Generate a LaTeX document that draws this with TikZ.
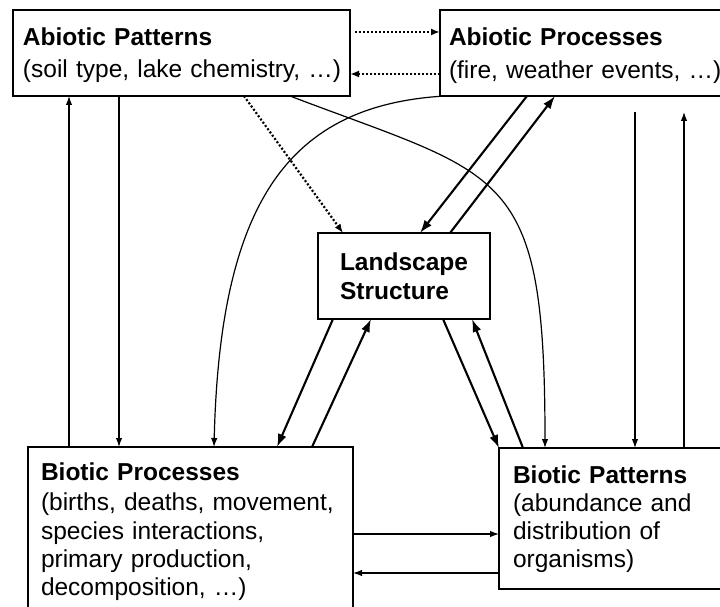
\documentclass[tikz,border=0pt]{standalone}
\usepackage{fontspec}
\setmainfont{Liberation Sans}
\usetikzlibrary{arrows.meta}

\begin{document}
\begin{tikzpicture}[x=1pt,y=-1pt,
    box/.style={draw,rectangle,outer sep=0pt,inner ysep=0pt,anchor=north west,
        align=left,font=\fontsize{24.5}{28.3}\selectfont},
    link/.style={line width=1.2pt,-{Latex[length=9pt,width=6.5pt]}},
    heavylink/.style={line width=2.1pt,-{Latex[length=13pt,width=9pt]}},
    dotlink/.style={line width=2.2pt,dash pattern=on 2pt off 2pt,
        -{Latex[length=9pt,width=7pt]}}]
    \useasboundingbox (0,0) rectangle (720,607);
    \clip (0,0) rectangle (720,607);

    % the five boxes
    \node[box,line width=1.6pt,inner xsep=10pt,text width=317pt,minimum height=86pt,
        text height=35.5pt,text depth=50.5pt]
        (abpat) at (13,10) {\textbf{Abiotic Patterns}\\[4pt]
        \mbox{(soil type, lake chemistry, …)}};
    \node[box,line width=1.6pt,inner xsep=9pt,text width=282pt,minimum height=86pt,
        text height=36pt,text depth=50pt]
        (abproc) at (440,10) {\textbf{Abiotic Processes}\\[4pt]
        \mbox{(fire, weather events, …)}};
    \node[box,line width=2.8pt,inner xsep=0pt,minimum width=172pt,minimum height=86pt,
        text height=66pt,text depth=20pt]
        (land) at (318,233) {\textbf{Landscape}\\\textbf{Structure}};
    \node[box,line width=1.6pt,inner xsep=13pt,text width=299pt,minimum height=168pt,
        text height=33pt,text depth=135pt]
        (biproc) at (28,447) {\textbf{Biotic Processes}\\[2.5pt]
        \mbox{(births, deaths, movement,}\\species interactions,\\
        primary production,\\decomposition, …)};
    \node[box,line width=2.5pt,inner xsep=14pt,text width=213pt,minimum height=141pt,
        text height=35pt,text depth=106pt]
        (bipat) at (499,448) {\textbf{Biotic Patterns}\\(abundance and\\
        distribution of\\organisms)};

    % abiotic patterns <-> abiotic processes
    \draw[dotlink,shorten <=5pt] ([yshift=-22pt]abpat.north east)
        -- ([yshift=-22pt]abproc.north west);
    \draw[dotlink] ([yshift=-64pt]abproc.north west)
        -- ([yshift=-64pt]abpat.north east);
    \draw[dotlink] ([xshift=231pt]abpat.south west) -- ([xshift=25pt]land.north west);

    % landscape structure links
    \draw[heavylink] ([xshift=87pt]abproc.south west) -- ([xshift=102pt]land.north west);
    \draw[heavylink] ([xshift=132pt]land.north west) -- ([xshift=115pt]abproc.south west);
    \draw[heavylink] ([xshift=15pt]land.south west) -- ([xshift=249pt]biproc.north west);
    \draw[heavylink] ([xshift=284pt]biproc.north west) -- ([xshift=53pt]land.south west);
    \draw[heavylink] ([xshift=125pt]land.south west) -- (bipat.north west);
    \draw[heavylink] ([xshift=24pt]bipat.north west) -- ([xshift=154pt]land.south west);

    % verticals on the left
    \draw[link] ([xshift=41pt]biproc.north west) -- ([xshift=56pt]abpat.south west);
    \draw[link] ([xshift=106pt]abpat.south west) -- ([xshift=91pt]biproc.north west);

    % long curves
    \draw[link] ([xshift=5pt]abproc.south west)
        .. controls (290,105) and (220,200) .. ([xshift=186pt]biproc.north west);
    \draw[link] ([xshift=277pt]abpat.south west)
        .. controls (505,178) and (545,165) .. ([xshift=46pt]bipat.north west);

    % verticals on the right
    \draw[link,shorten <=16pt] ([xshift=195pt]abproc.south west)
        -- ([xshift=136pt]bipat.north west);
    \draw[link,shorten >=16pt] ([xshift=185pt]bipat.north west)
        -- ([xshift=244pt]abproc.south west);

    % biotic processes <-> biotic patterns
    \draw[link] ([yshift=-87pt]biproc.north east) -- ([yshift=-86pt]bipat.north west);
    \draw[link] ([yshift=-125pt]bipat.north west) -- ([yshift=-126pt]biproc.north east);
\end{tikzpicture}
\end{document}
